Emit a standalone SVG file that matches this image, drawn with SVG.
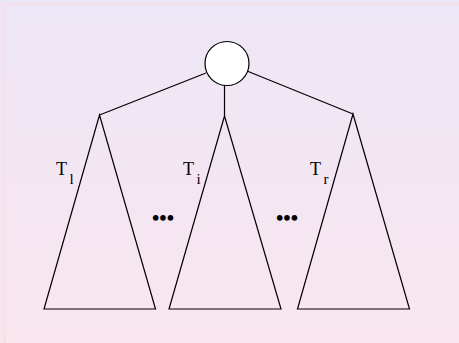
<svg xmlns="http://www.w3.org/2000/svg" width="459" height="343" viewBox="0 0 459 343">
<style>
.ln{fill:none;stroke:#000;stroke-width:1.2}
.lab{font-family:"Liberation Serif","Times New Roman",serif;font-size:18px;fill:#000}
.sub{font-size:15px}
.dots{font-family:"Liberation Serif","Times New Roman",serif;font-size:21px;font-weight:bold;fill:#000}
</style>
<defs>
<linearGradient id="bg" x1="0" y1="0" x2="0" y2="1">
<stop offset="0" stop-color="#ede6f6"/>
<stop offset="1" stop-color="#f9e6ef"/>
</linearGradient>
</defs>
<rect x="0" y="0" width="459" height="343" fill="url(#bg)"/>
<rect x="4.5" y="4.5" width="470" height="360" fill="none" stroke="#f8dce6" stroke-width="1.5"/>
<g id="connectors">
<line class="ln" x1="206" y1="73" x2="99.5" y2="115"/>
<line class="ln" x1="224.5" y1="85.5" x2="224.5" y2="116"/>
<line class="ln" x1="247" y1="71" x2="353" y2="114"/>
</g>
<g id="root">
<circle cx="227" cy="63.5" r="22" fill="#fff" stroke="#000" stroke-width="1.2"/>
</g>
<g id="T_l">
<polygon class="ln" points="99.5,115 44,309 155.5,309"/>
<text class="lab" x="56" y="175">T<tspan class="sub" x="69.5" y="184">l</tspan></text>
</g>
<g id="T_i">
<polygon class="ln" points="224.5,116 169,309 281,309"/>
<text class="lab" x="183" y="175">T<tspan class="sub" x="196.5" y="184">i</tspan></text>
</g>
<g id="T_r">
<polygon class="ln" points="353,114 297.5,309 409.5,309"/>
<text class="lab" x="310" y="175">T<tspan class="sub" x="323.5" y="184">r</tspan></text>
</g>
<g id="dots1"><text class="dots" x="163" y="225" text-anchor="middle">•••</text></g>
<g id="dots2"><text class="dots" x="287" y="225" text-anchor="middle">•••</text></g>
</svg>
